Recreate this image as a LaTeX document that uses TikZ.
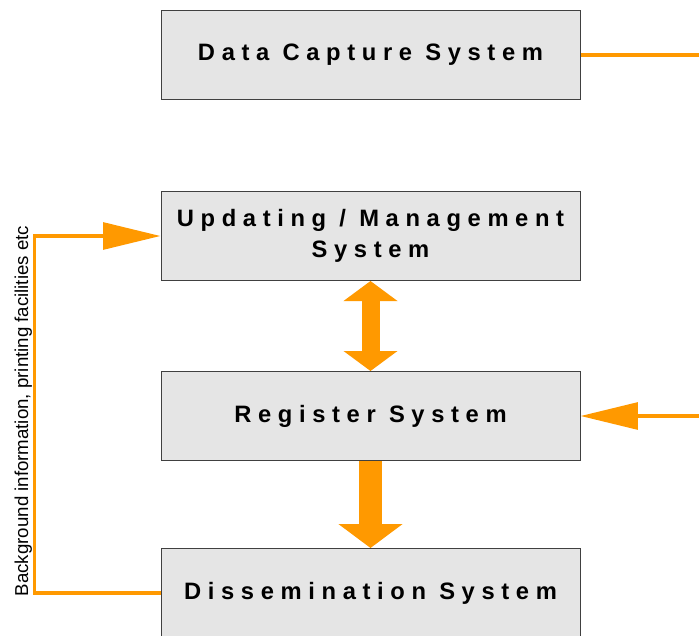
\documentclass[tikz,border=0pt]{standalone}
\usepackage{fontspec}
\setmainfont{Liberation Sans}
\usetikzlibrary{positioning,arrows.meta}
\definecolor{narancs}{HTML}{FF9900}
\newcommand{\ritkabetu}{\fontsize{17.8}{23.25}\selectfont\bfseries\addfontfeatures{LetterSpace=28}}
\tikzset{
	rendszer/.style={draw=black!75, line width=0.75pt, fill=black!10, minimum width=314.25pt, minimum height=66.75pt, inner sep=0pt, align=center, font=\ritkabetu},
	vonal/.style={draw=narancs, line width=2.8pt},
	hegy/.style={-{Triangle[width=20pt,length=43pt]}},
}
\begin{document}
\begin{tikzpicture}[x=0.75pt, y=-0.75pt]
	\useasboundingbox (0,0) rectangle (699,635); % keret
	% dobozok
	\node[rendszer] (capture) at (370.5,55) {Data Capture System};
	\node[rendszer, below=68.25pt of capture] (update) {Updating / Management\\System};
	\node[rendszer, below=67.5pt of update] (register) {Register System};
	\node[rendszer, below=65.25pt of register] (dissem) {Dissemination System};
	% kilógó végek
	\coordinate (capout) at (699,55);
	\coordinate (regin) at (capout |- register.east);
	\draw[vonal] (capture.east) -- (capout);
	\draw[vonal, hegy] (regin) -- (register.east);
	% visszacsatolás
	\draw[vonal, hegy] (dissem.west) -- ++(-126,0) |- (update.west);
	\node[rotate=90, anchor=base, font=\fontsize{14}{16}\selectfont] (hatter) at (28,411) {Background information, printing facilities etc};
	% vastag nyilak
	\draw[narancs, line width=13.5pt, {Triangle[width=39.75pt,length=15pt]}-{Triangle[width=39.75pt,length=15pt]}] (update.south) -- (register.north);
	\draw[narancs, line width=17.25pt, -{Triangle[width=47.25pt,length=18pt]}] (register.south) -- (dissem.north);
\end{tikzpicture}
\end{document}
